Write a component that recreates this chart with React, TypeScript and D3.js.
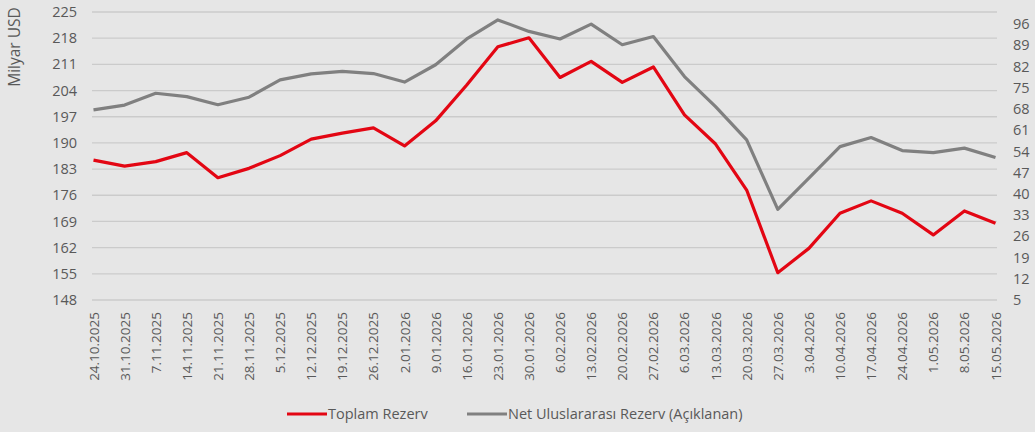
import { useMemo } from 'react';
import { scaleLinear, scalePoint, line } from 'd3';

const dates = [
  '24.10.2025', '31.10.2025', '7.11.2025', '14.11.2025', '21.11.2025', '28.11.2025',
  '5.12.2025', '12.12.2025', '19.12.2025', '26.12.2025', '2.01.2026', '9.01.2026',
  '16.01.2026', '23.01.2026', '30.01.2026', '6.02.2026', '13.02.2026', '20.02.2026',
  '27.02.2026', '6.03.2026', '13.03.2026', '20.03.2026', '27.03.2026', '3.04.2026',
  '10.04.2026', '17.04.2026', '24.04.2026', '1.05.2026', '8.05.2026', '15.05.2026',
];

// Toplam Rezerv (sol eksen)
const toplam = [
  185.4, 183.8, 185.0, 187.4, 180.7, 183.2, 186.6, 191.0, 192.6, 194.0,
  189.2, 195.9, 205.5, 215.7, 218.1, 207.5, 211.8, 206.2, 210.3, 197.5,
  189.7, 177.4, 155.3, 161.8, 171.2, 174.5, 171.2, 165.4, 171.8, 168.5,
];

// Net Uluslararası Rezerv (sağ eksen)
const netRezerv = [
  67.7, 69.3, 73.2, 72.1, 69.4, 71.9, 77.6, 79.6, 80.4, 79.7,
  76.9, 82.6, 91.1, 97.4, 93.6, 91.1, 96.0, 89.2, 91.9, 78.7,
  68.8, 57.8, 34.9, 45.2, 55.6, 58.6, 54.3, 53.6, 55.1, 52.0,
];

const leftTicks = [148, 155, 162, 169, 176, 183, 190, 197, 204, 211, 218, 225];
const rightTicks = [5, 12, 19, 26, 33, 40, 47, 54, 61, 68, 75, 82, 89, 96];

const legendItems = [
  { label: 'Toplam Rezerv', color: '#e30613' },
  { label: 'Net Uluslararası Rezerv (Açıklanan)', color: '#808080' },
];

export default function App() {
  const width = 1035;
  const height = 432;
  const margin = { top: 12, right: 38, bottom: 132, left: 92 };
  const font = "'Open Sans', sans-serif";
  const textColor = '#595959';

  const x = useMemo(
    () => scalePoint<string>().domain(dates).range([93.5, 995.5]),
    []
  );
  const yL = scaleLinear().domain([148, 225]).range([height - margin.bottom, margin.top]);
  const yR = scaleLinear().domain([5, 100]).range([height - margin.bottom, margin.top]);

  const redPath = line<number>()
    .x((_, i) => x(dates[i])!)
    .y((d) => yL(d))(toplam)!;
  const grayPath = line<number>()
    .x((_, i) => x(dates[i])!)
    .y((d) => yR(d))(netRezerv)!;

  const gridX1 = margin.left;
  const gridX2 = width - margin.right;

  // legend positions
  const legendY = 414;
  const legendX = [287, 467];

  return (
    <svg
      width={width}
      height={height}
      style={{ position: 'absolute', left: 0, top: 0, display: 'block' }}
      fontFamily={font}
    >
      <rect width={width} height={height} fill="#e6e6e6" />

      {/* grid */}
      {leftTicks.map((t) => (
        <line
          key={'g' + t}
          x1={gridX1}
          x2={gridX2}
          y1={yL(t)}
          y2={yL(t)}
          stroke="#cbcbcb"
          strokeWidth={1.3}
        />
      ))}

      {/* sol eksen */}
      {leftTicks.map((t) => (
        <text
          key={'l' + t}
          x={77}
          y={yL(t)}
          dy="0.35em"
          textAnchor="end"
          fontSize={14.5}
          fill={textColor}
        >
          {t}
        </text>
      ))}

      {/* sağ eksen */}
      {rightTicks.map((t) => (
        <text
          key={'r' + t}
          x={1013}
          y={yR(t)}
          dy="0.35em"
          textAnchor="start"
          fontSize={14.5}
          fill={textColor}
        >
          {t}
        </text>
      ))}

      <text
        transform={`translate(19.5, 47) rotate(-90)`}
        textAnchor="middle"
        fontSize={15.5}
        fill={textColor}
      >
        Milyar USD
      </text>

      {/* x etiketleri */}
      {dates.map((d) => (
        <text
          key={d}
          transform={`translate(${x(d)! + 5}, 312) rotate(-90)`}
          textAnchor="end"
          fontSize={13.5}
          fill={textColor}
        >
          {d}
        </text>
      ))}

      <path d={grayPath} fill="none" stroke="#808080" strokeWidth={3.2} strokeLinejoin="round" />
      <path d={redPath} fill="none" stroke="#e30613" strokeWidth={3.2} strokeLinejoin="round" />

      {/* legend */}
      {legendItems.map((item, i) => (
        <g key={item.label}>
          <line
            x1={legendX[i]}
            x2={legendX[i] + 40}
            y1={legendY}
            y2={legendY}
            stroke={item.color}
            strokeWidth={3.2}
          />
          <text
            x={legendX[i] + 41}
            y={legendY}
            dy="0.35em"
            fontSize={14.5}
            fill={textColor}
          >
            {item.label}
          </text>
        </g>
      ))}
    </svg>
  );
}
